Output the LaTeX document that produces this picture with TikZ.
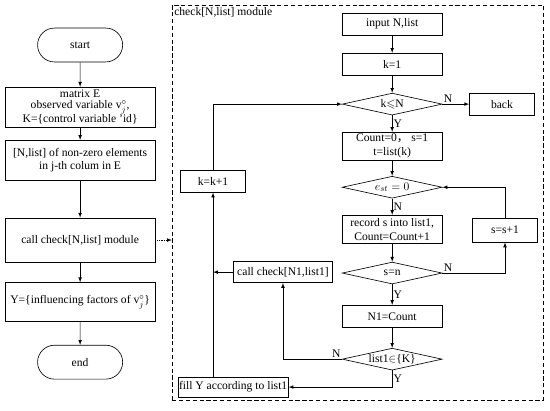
\documentclass[tikz,border=0pt]{standalone}
\usepackage{fontspec}
\usepackage{amssymb}
\setmainfont{Liberation Serif}
\newfontfamily\cjk{Noto Sans CJK SC}
\usetikzlibrary{arrows, shapes.geometric, shapes.misc}

\begin{document}
\begin{tikzpicture} [align=center, >=latex, semithick, font=\fontsize{11}{13}\selectfont,
  term/.style={rounded rectangle, draw, minimum width=3.07cm, minimum height=1.13cm},
  lbox/.style={rectangle, draw, minimum width=5cm, minimum height=1.33cm, inner sep=1pt},
  mbox/.style={rectangle, draw, minimum width=3.33cm, minimum height=0.73cm, inner sep=1pt},
  sbox/.style={rectangle, draw, minimum width=2.17cm, minimum height=0.73cm, inner sep=1pt},
  cond/.style={diamond, draw, aspect=4.5, inner sep=0pt, minimum width=3.33cm, minimum height=0.73cm}]
\useasboundingbox (0,0) rectangle (18.33,13.67);

\path (2.67,12.17) node[term] (start) {start}
	  (2.67,10.1) node[lbox, font=\fontsize{11}{11}\selectfont] (mat) {matrix E\\observed variable v$^{\circ}_{j}$,\\K=\{control variable 'id\}}
	  (2.67,8.33) node[lbox] (nlist) {[N,list] of non-zero elements\\in j-th colum in E}
	  (2.67,5.67) node[lbox, minimum height=1.47cm] (call) {call check[N,list] module}
	  (2.67,3.6) node[lbox, minimum height=1.3cm] (yset) {Y=\{influencing factors of v$^{\circ}_{j}$\}}
	  (2.67,1.6) node[term] (end) {end}

	  (11.92,6.92) node[draw, thin, dash pattern=on 4pt off 2.5pt, minimum width=12.37cm, minimum height=13.17cm] (module) {}
	  (module.north west) node[anchor=north west, inner sep=2pt] (title) {check[N,list] module}

	  (13.07,12.87) node[mbox] (input) {input N,list}
	  (13.07,11.53) node[mbox] (k1) {k=1}
	  (13.07,10.2) node[cond] (kN) {k$\leqslant$N}
	  (16.73,10.2) node[sbox] (back) {back}
	  (13.07,8.8) node[mbox, minimum height=0.93cm] (count) {Count=0{\cjk ，} s=1\\t=list(k)}
	  (13.07,7.43) node[cond] (est) {$e_{st}=0$}
	  (13.07,6.03) node[mbox, minimum height=0.93cm] (record) {record s into list1,\\Count=Count+1}
	  (16.83,6.0) node[sbox, minimum height=0.8cm] (snext) {s=s+1}
	  (13.07,4.57) node[cond] (sn) {s=n}
	  (13.07,3.13) node[mbox] (n1) {N1=Count}
	  (13.07,1.7) node[cond] (inK) {list1$\in$\{K\}}
	  (7.1,7.63) node[sbox] (knext) {k=k+1}
	  (9.43,4.6) node[mbox, minimum width=3.3cm, minimum height=0.7cm] (call1) {call check[N1,list1]}
	  (7.77,0.77) node[mbox, minimum width=3.67cm, minimum height=0.67cm] (fill) {fill Y according to list1};

\draw[->] (start) to (mat);
\draw[->] (mat) to (nlist);
\draw[->] (nlist) to (call);
\draw[->] (call) to (yset);
\draw[->] (yset) to (end);
\draw[densely dotted, ->] (call) to (call -| module.west);

\draw[->] (input) to (k1);
\draw[->] (k1) to (kN);
\draw[->] (kN) to node[pos=0, above right, inner sep=1pt] {N} (back);
\draw[->] (kN) to node[right, inner sep=1pt] {Y} (count);
\draw[->] (count) to (est);
\draw[->] (est) to node[right, inner sep=1pt] {N} (record);
\draw[->] (record) to (sn);
\draw[->] (sn) -| node[pos=0, above right, inner sep=1pt] {N} (snext);
\draw[->] (snext) |- (est);
\draw[->] (sn) to node[right, inner sep=1pt] {Y} (n1);
\draw[->] (n1) to (inK);
\draw[->] (inK) -| node[pos=0, above left, inner sep=1pt] {N} (call1);
\draw[->] (inK) |- node[pos=0.25, right, inner sep=1pt] {Y} (fill);
\draw[->] (call1) to (call1 -| knext);
\draw[->] (fill.north -| knext) to (knext);
\draw[->] (knext) |- (kN);

\end{tikzpicture}
\end{document}
